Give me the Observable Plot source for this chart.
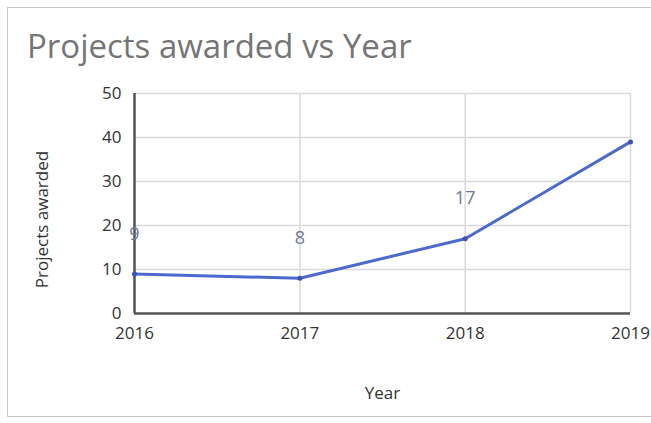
<!DOCTYPE html>
<html>
<head>
<meta charset="utf-8">
<script src="https://cdn.jsdelivr.net/npm/d3@7"></script>
<script src="https://cdn.jsdelivr.net/npm/@observablehq/plot@0.6"></script>
<style>
  html, body { margin: 0; padding: 0; background: #fff; }
  #wrap { position: relative; width: 651px; height: 423px; overflow: hidden; font-family: "Open Sans", sans-serif; }
  #frame { position: absolute; left: 7px; top: 7px; width: 650px; height: 410px; border: 1px solid #c8c8c8; box-sizing: border-box; }
  #title { position: absolute; left: 27px; top: 23px; font-size: 33px; color: #757575; white-space: nowrap; }
  #chart { position: absolute; left: 0; top: 75px; }
</style>
</head>
<body>
<div id="wrap">
  <div id="frame"></div>
  <div id="title">Projects awarded vs Year</div>
  <div id="chart"></div>
</div>
<script>
const years = [2016, 2017, 2018, 2019];
const projects = [9, 8, 17, 39];
const labels = ["9", "8", "17", null];
const yTicks = [0, 10, 20, 30, 40, 50];

const data = years.map((y, i) => ({year: y, value: projects[i], label: labels[i]}));

const chart = Plot.plot({
  width: 651,
  height: 348,
  marginTop: 18,
  marginLeft: 134,
  marginRight: 21,
  marginBottom: 110,
  style: {fontFamily: "Open Sans, sans-serif", fontSize: "17px", color: "#333", background: "transparent", overflow: "visible"},
  x: {domain: [2016, 2019], ticks: years, tickFormat: d3.format("d"), label: null},
  y: {domain: [0, 50], ticks: yTicks, label: null},
  marks: [
    Plot.gridY(yTicks, {stroke: "#d9d9d9", strokeOpacity: 1, strokeWidth: 1.5}),
    Plot.gridX(years, {stroke: "#d9d9d9", strokeOpacity: 1, strokeWidth: 1.5}),
    Plot.axisY(yTicks, {tickSize: 0, tickPadding: 13, fontSize: 17, fill: "#333", label: null}),
    Plot.axisX(years, {tickSize: 0, tickPadding: 13, fontSize: 17, fill: "#333", tickFormat: d3.format("d"), label: null}),
    Plot.ruleX([2016], {y1: 0, y2: 50, stroke: "#555", strokeWidth: 2.5}),
    Plot.ruleY([0], {stroke: "#555", strokeWidth: 2.5}),
    Plot.line(data, {x: "year", y: "value", stroke: "#4b6acb", strokeWidth: 3}),
    Plot.dot(data, {x: "year", y: "value", r: 2.5, fill: "#3f50b0"}),
    Plot.text(data.filter(d => d.label), {x: "year", y: "value", text: "label", dy: -40, fontSize: 18, fill: "#6b7a99"}),
    Plot.text(["Year"], {frameAnchor: "bottom", lineAnchor: "middle", dy: 80, fontSize: 17, fill: "#333"}),
    Plot.text(["Projects awarded"], {frameAnchor: "left", textAnchor: "middle", lineAnchor: "middle", dx: -92, dy: 16, rotate: -90, fontSize: 17, fill: "#333"})
  ]
});
document.getElementById("chart").appendChild(chart);
</script>
</body>
</html>
